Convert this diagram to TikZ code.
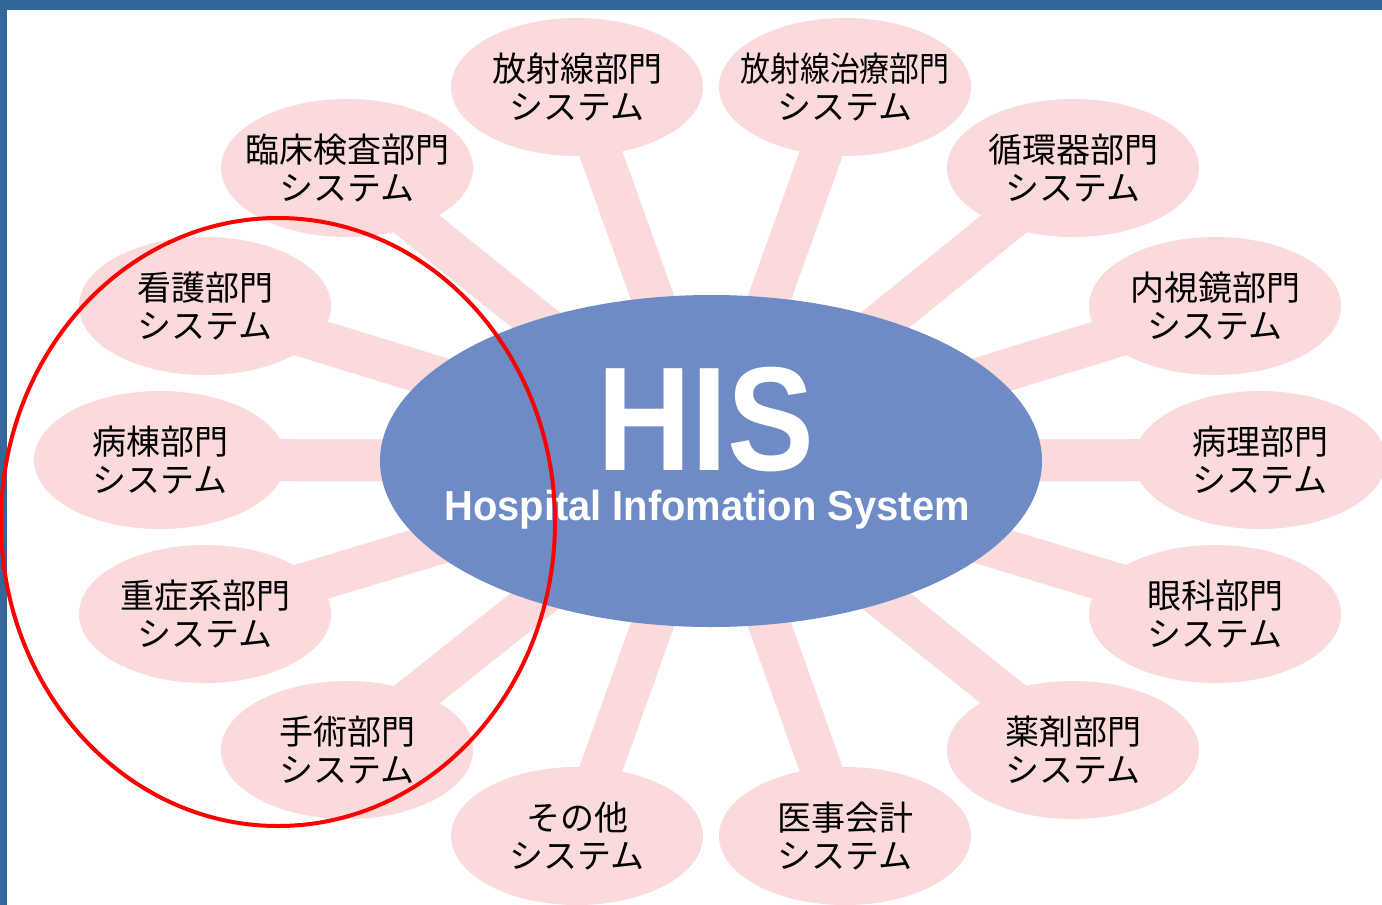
\documentclass[tikz,border=0pt]{standalone}
\usepackage{fontspec}
\newfontfamily\jp{Noto Sans CJK JP}
\newfontfamily\hisfont{Liberation Sans}
\usetikzlibrary{shapes.geometric,backgrounds}
\definecolor{frame}{HTML}{336699}
\definecolor{pinkfill}{HTML}{FADADB}
\definecolor{hisblue}{HTML}{6E8BC6}
\tikzset{
  sat/.style={ellipse, fill=pinkfill, minimum width=252pt, minimum height=138pt, inner sep=-60pt,
    align=center, font=\jp\fontsize{34}{38}\selectfont, text=black},
  spoke/.style={draw=pinkfill, line width=42pt},
}
\begin{document}
\begin{tikzpicture}[x=1pt,y=-1pt]
\useasboundingbox (0,0) rectangle (1382,905);
\node[ellipse, fill=hisblue, minimum width=662pt, minimum height=332pt, inner sep=0pt] (his) at (711,461) {};
\node[text=white, font=\hisfont\bfseries\fontsize{148}{148}\selectfont, xscale=0.88, inner sep=0pt, anchor=base] (histitle) at (706,470) {HIS};
\node[text=white, font=\hisfont\bfseries\fontsize{42}{42}\selectfont, xscale=0.95, inner sep=0pt, anchor=base] (hissub) at (707,520) {Hospital Infomation System};

\node[sat] (s1) at (577,87) {放射線部門\\システム};
\node[sat] (s2) at (845,87) {\scalebox{0.88}[1]{放射線治療部門}\\システム};
\node[sat] (s3) at (1073,168) {循環器部門\\システム};
\node[sat] (s4) at (1215,306) {内視鏡部門\\システム};
\node[sat] (s5) at (1260,460) {病理部門\\システム};
\node[sat] (s6) at (1215,614) {眼科部門\\システム};
\node[sat] (s7) at (1073,750) {薬剤部門\\システム};
\node[sat] (s8) at (845,836) {医事会計\\システム};
\node[sat] (s9) at (577,836) {その他\\システム};
\node[sat] (s10) at (347,750) {手術部門\\システム};
\node[sat] (s11) at (205,614) {重症系部門\\システム};
\node[sat] (s12) at (160,460) {病棟部門\\システム};
\node[sat] (s13) at (205,306) {看護部門\\システム};
\node[sat] (s14) at (347,168) {臨床検査部門\\システム};

\begin{scope}[on background layer]
\fill[white] (0,0) rectangle (1382,905);
\foreach \i in {1,...,14} { \draw[spoke] (his.center) -- (s\i.center); }
\end{scope}

\fill[frame] (0,0) rectangle (1382,10);
\fill[frame] (0,0) rectangle (7,905);

\node[ellipse, draw=red, line width=4pt, minimum width=554pt, minimum height=608pt, inner sep=0pt] (mark) at (278,522) {};
\end{tikzpicture}
\end{document}
